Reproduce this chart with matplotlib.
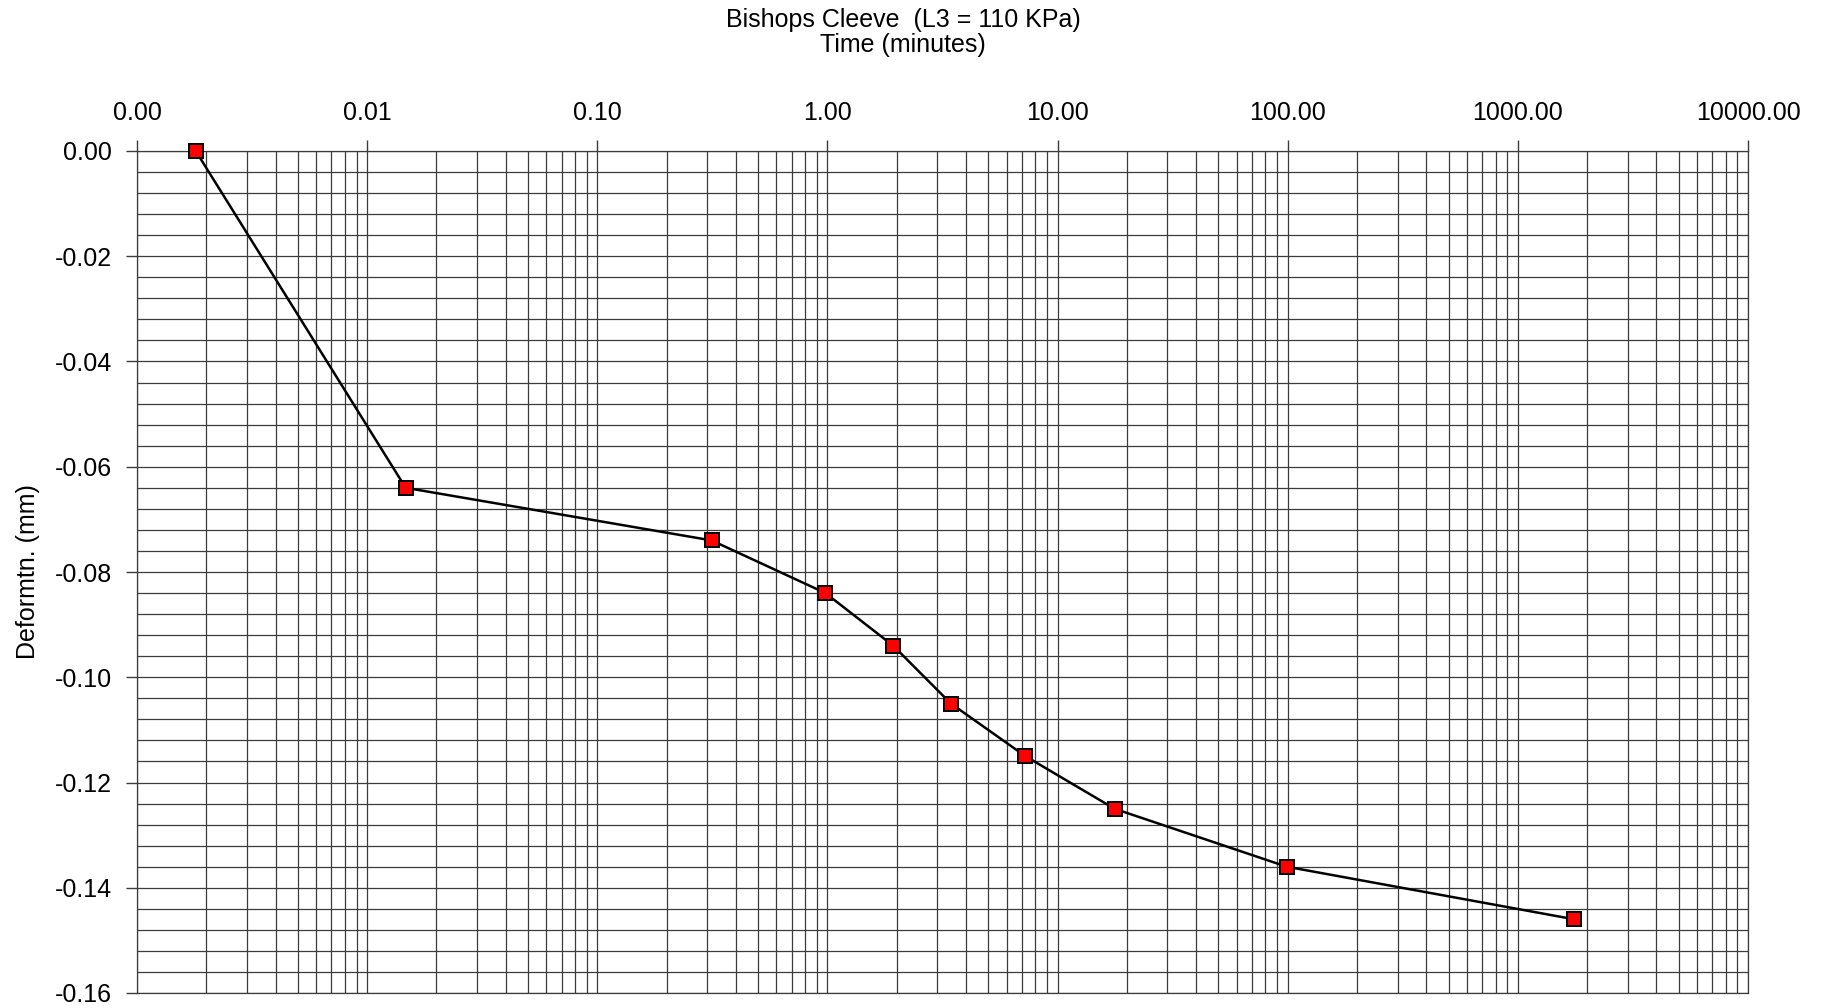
import matplotlib
matplotlib.use('Agg')
import matplotlib.pyplot as plt
from matplotlib.ticker import LogLocator, MultipleLocator, FormatStrFormatter, FixedLocator

# data
time_min = [0.0018, 0.0147, 0.314, 0.98, 1.93, 3.44, 7.25, 17.7, 99.0, 1760.0]
deform_mm = [0.0, -0.064, -0.074, -0.084, -0.094, -0.105, -0.115, -0.125, -0.136, -0.146]
x_ticks = [0.001, 0.01, 0.1, 1, 10, 100, 1000, 10000]

plt.rcParams['font.family'] = ['Liberation Sans', 'DejaVu Sans']

fig = plt.figure(figsize=(18.21, 10.08), dpi=100)
ax = fig.add_axes([137/1821, 1 - 993/1008, (1748-137)/1821, (993-151)/1008])

grid_c = '#3c3c3c'
ax.set_xscale('log')
ax.set_xlim(0.001, 10000)
ax.set_ylim(-0.16, 0)
ax.xaxis.set_major_locator(FixedLocator(x_ticks))
ax.xaxis.set_minor_locator(LogLocator(base=10, subs=range(2, 10), numticks=100))
ax.xaxis.set_major_formatter(FormatStrFormatter('%.2f'))
ax.xaxis.set_minor_formatter(plt.NullFormatter())
ax.yaxis.set_major_locator(MultipleLocator(0.02))
ax.yaxis.set_minor_locator(MultipleLocator(0.004))
ax.yaxis.set_major_formatter(FormatStrFormatter('%.2f'))

ax.grid(True, which='both', color=grid_c, linewidth=0.9)
ax.set_axisbelow(True)
ax.xaxis.tick_top()
ax.tick_params(axis='both', which='major', length=8, width=1, color=grid_c,
               labelsize=18)
ax.tick_params(axis='x', which='major', pad=11)
ax.tick_params(axis='y', which='major', pad=10)
ax.tick_params(axis='both', which='minor', length=0)
for s in ax.spines.values():
    s.set_color(grid_c)
    s.set_linewidth(0.9)

ax.plot(time_min, deform_mm, color='black', linewidth=1.8, marker='s',
        markersize=10.5, markerfacecolor='#ff0000', markeredgecolor='black',
        markeredgewidth=1.4, zorder=5, clip_on=False)

ax.set_ylabel('Deformtn. (mm)', fontsize=18)
ax.yaxis.set_label_coords(-0.060, 0.5)
fig.text(903/1821, 1 - 20/1008, 'Bishops Cleeve  (L3 = 110 KPa)', ha='center', va='center', fontsize=18)
fig.text(903/1821, 1 - 45/1008, 'Time (minutes)', ha='center', va='center', fontsize=18)

fig.savefig('out.png', dpi=100)
